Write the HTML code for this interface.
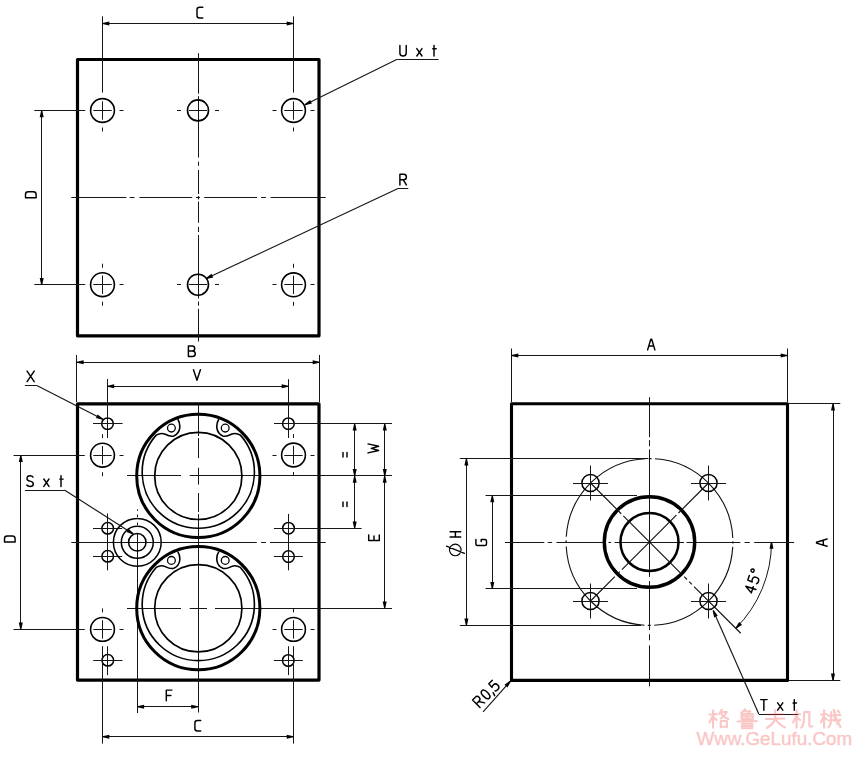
<!DOCTYPE html>
<html><head><meta charset="utf-8"><style>
html,body{margin:0;padding:0;background:#fff;overflow:hidden;}
svg{display:block;}
</style></head><body>
<svg width="864" height="757" viewBox="0 0 864 757">
<rect width="864" height="757" fill="#fff"/>
<rect x="77.5" y="59.5" width="241.50" height="276.30" fill="none" stroke="#000" stroke-width="3.2" stroke-linejoin="round"/>
<line x1="71.30" y1="197.50" x2="126.40" y2="197.50" stroke="#1a1515" stroke-width="1.0"/>
<line x1="129.70" y1="197.50" x2="134.50" y2="197.50" stroke="#1a1515" stroke-width="1.0"/>
<line x1="139.40" y1="197.50" x2="192.20" y2="197.50" stroke="#1a1515" stroke-width="1.0"/>
<line x1="196.00" y1="197.50" x2="200.00" y2="197.50" stroke="#1a1515" stroke-width="1.0"/>
<line x1="204.20" y1="197.50" x2="257.00" y2="197.50" stroke="#1a1515" stroke-width="1.0"/>
<line x1="261.10" y1="197.50" x2="265.90" y2="197.50" stroke="#1a1515" stroke-width="1.0"/>
<line x1="270.60" y1="197.50" x2="325.70" y2="197.50" stroke="#1a1515" stroke-width="1.0"/>
<line x1="198.50" y1="53.20" x2="198.50" y2="93.70" stroke="#1a1515" stroke-width="1.0"/>
<line x1="198.50" y1="96.20" x2="198.50" y2="157.60" stroke="#1a1515" stroke-width="1.0"/>
<line x1="198.50" y1="161.70" x2="198.50" y2="165.80" stroke="#1a1515" stroke-width="1.0"/>
<line x1="198.50" y1="169.90" x2="198.50" y2="194.00" stroke="#1a1515" stroke-width="1.0"/>
<line x1="198.50" y1="196.00" x2="198.50" y2="199.50" stroke="#1a1515" stroke-width="1.0"/>
<line x1="198.50" y1="201.50" x2="198.50" y2="222.80" stroke="#1a1515" stroke-width="1.0"/>
<line x1="198.50" y1="226.90" x2="198.50" y2="232.00" stroke="#1a1515" stroke-width="1.0"/>
<line x1="198.50" y1="235.00" x2="198.50" y2="298.50" stroke="#1a1515" stroke-width="1.0"/>
<line x1="198.50" y1="301.60" x2="198.50" y2="305.70" stroke="#1a1515" stroke-width="1.0"/>
<line x1="198.50" y1="308.80" x2="198.50" y2="341.50" stroke="#1a1515" stroke-width="1.0"/>
<circle cx="102.50" cy="110.50" r="11.90" fill="none" stroke="#000" stroke-width="1.6"/>
<line x1="93.30" y1="110.50" x2="111.70" y2="110.50" stroke="#1a1515" stroke-width="1.0"/>
<line x1="102.50" y1="101.30" x2="102.50" y2="119.70" stroke="#1a1515" stroke-width="1.0"/>
<line x1="119.50" y1="110.50" x2="123.50" y2="110.50" stroke="#1a1515" stroke-width="1.0"/>
<line x1="102.50" y1="127.50" x2="102.50" y2="131.50" stroke="#1a1515" stroke-width="1.0"/>
<circle cx="198.00" cy="110.40" r="10.50" fill="none" stroke="#000" stroke-width="1.6"/>
<line x1="188.80" y1="110.50" x2="207.20" y2="110.50" stroke="#1a1515" stroke-width="1.0"/>
<line x1="198.50" y1="101.20" x2="198.50" y2="119.60" stroke="#1a1515" stroke-width="1.0"/>
<line x1="177.00" y1="110.50" x2="181.00" y2="110.50" stroke="#1a1515" stroke-width="1.0"/>
<line x1="215.00" y1="110.50" x2="219.00" y2="110.50" stroke="#1a1515" stroke-width="1.0"/>
<circle cx="293.50" cy="110.50" r="11.90" fill="none" stroke="#000" stroke-width="1.6"/>
<line x1="284.30" y1="110.50" x2="302.70" y2="110.50" stroke="#1a1515" stroke-width="1.0"/>
<line x1="293.50" y1="101.30" x2="293.50" y2="119.70" stroke="#1a1515" stroke-width="1.0"/>
<line x1="272.50" y1="110.50" x2="276.50" y2="110.50" stroke="#1a1515" stroke-width="1.0"/>
<line x1="310.50" y1="110.50" x2="314.50" y2="110.50" stroke="#1a1515" stroke-width="1.0"/>
<line x1="293.50" y1="127.50" x2="293.50" y2="131.50" stroke="#1a1515" stroke-width="1.0"/>
<circle cx="102.50" cy="284.70" r="11.90" fill="none" stroke="#000" stroke-width="1.6"/>
<line x1="93.30" y1="284.50" x2="111.70" y2="284.50" stroke="#1a1515" stroke-width="1.0"/>
<line x1="102.50" y1="275.50" x2="102.50" y2="293.90" stroke="#1a1515" stroke-width="1.0"/>
<line x1="119.50" y1="284.50" x2="123.50" y2="284.50" stroke="#1a1515" stroke-width="1.0"/>
<line x1="102.50" y1="263.70" x2="102.50" y2="267.70" stroke="#1a1515" stroke-width="1.0"/>
<line x1="102.50" y1="301.70" x2="102.50" y2="305.70" stroke="#1a1515" stroke-width="1.0"/>
<circle cx="198.00" cy="284.70" r="10.50" fill="none" stroke="#000" stroke-width="1.6"/>
<line x1="188.80" y1="284.50" x2="207.20" y2="284.50" stroke="#1a1515" stroke-width="1.0"/>
<line x1="198.50" y1="275.50" x2="198.50" y2="293.90" stroke="#1a1515" stroke-width="1.0"/>
<line x1="177.00" y1="284.50" x2="181.00" y2="284.50" stroke="#1a1515" stroke-width="1.0"/>
<line x1="215.00" y1="284.50" x2="219.00" y2="284.50" stroke="#1a1515" stroke-width="1.0"/>
<circle cx="293.50" cy="284.80" r="11.90" fill="none" stroke="#000" stroke-width="1.6"/>
<line x1="284.30" y1="284.50" x2="302.70" y2="284.50" stroke="#1a1515" stroke-width="1.0"/>
<line x1="293.50" y1="275.60" x2="293.50" y2="294.00" stroke="#1a1515" stroke-width="1.0"/>
<line x1="272.50" y1="284.50" x2="276.50" y2="284.50" stroke="#1a1515" stroke-width="1.0"/>
<line x1="310.50" y1="284.50" x2="314.50" y2="284.50" stroke="#1a1515" stroke-width="1.0"/>
<line x1="293.50" y1="263.80" x2="293.50" y2="267.80" stroke="#1a1515" stroke-width="1.0"/>
<line x1="293.50" y1="301.80" x2="293.50" y2="305.80" stroke="#1a1515" stroke-width="1.0"/>
<line x1="102.50" y1="16.30" x2="102.50" y2="92.60" stroke="#1a1515" stroke-width="1.0"/>
<line x1="293.50" y1="16.30" x2="293.50" y2="92.60" stroke="#1a1515" stroke-width="1.0"/>
<line x1="102.50" y1="23.50" x2="293.50" y2="23.50" stroke="#1a1515" stroke-width="1.0"/>
<path d="M102.50,22.95 L102.50,24.05 L109.30,25.50 L109.30,21.50Z" fill="#000"/>
<path d="M293.50,24.05 L293.50,22.95 L286.70,21.50 L286.70,25.50Z" fill="#000"/>
<path transform="translate(197.00,17.90) rotate(0)" d="M5.8,-10.6 L2.5,-10.6 Q0,-10.6 0,-8.1 L0,-2.5 Q0,0 2.5,0 L5.8,0" fill="none" stroke="#000" stroke-width="1.45" stroke-linecap="round" stroke-linejoin="round"/>
<line x1="34.30" y1="110.50" x2="85.20" y2="110.50" stroke="#1a1515" stroke-width="1.0"/>
<line x1="34.30" y1="284.50" x2="85.20" y2="284.50" stroke="#1a1515" stroke-width="1.0"/>
<line x1="41.50" y1="110.50" x2="41.50" y2="284.70" stroke="#1a1515" stroke-width="1.0"/>
<path d="M42.25,110.50 L41.15,110.50 L39.70,117.30 L43.70,117.30Z" fill="#000"/>
<path d="M41.15,284.70 L42.25,284.70 L43.70,277.90 L39.70,277.90Z" fill="#000"/>
<path transform="translate(36.10,197.80) rotate(-90)" d="M0,0 L0,-10.6 L3.3,-10.6 Q6,-10.6 6,-7.9 L6,-2.7 Q6,0 3.3,0 Z" fill="none" stroke="#000" stroke-width="1.45" stroke-linecap="round" stroke-linejoin="round"/>
<line x1="304.90" y1="104.80" x2="397.20" y2="59.30" stroke="#1a1515" stroke-width="1.15"/>
<line x1="397.20" y1="59.50" x2="438.50" y2="59.50" stroke="#1a1515" stroke-width="1.0"/>
<path d="M304.66,104.31 L305.14,105.29 L311.88,103.59 L310.11,100.00Z" fill="#000"/>
<path transform="translate(399.90,56.00) rotate(0)" d="M0,-10.6 L0,-3 Q0,0 3.15,0 Q6.3,0 6.3,-3 L6.3,-10.6" fill="none" stroke="#000" stroke-width="1.45" stroke-linecap="round" stroke-linejoin="round"/>
<path transform="translate(416.80,56.00) rotate(0)" d="M0,-7.4 L5.2,0 M5.2,-7.4 L0,0" fill="none" stroke="#000" stroke-width="1.45" stroke-linecap="round" stroke-linejoin="round"/>
<path transform="translate(432.80,56.00) rotate(0)" d="M1.2,-10.6 L1.2,0 M0,-7.3 L3.4,-7.3" fill="none" stroke="#000" stroke-width="1.45" stroke-linecap="round" stroke-linejoin="round"/>
<line x1="206.20" y1="278.50" x2="398.00" y2="188.50" stroke="#1a1515" stroke-width="1.15"/>
<line x1="398.00" y1="188.50" x2="408.30" y2="188.50" stroke="#1a1515" stroke-width="1.0"/>
<path d="M205.97,278.00 L206.43,279.00 L213.21,277.42 L211.51,273.80Z" fill="#000"/>
<path transform="translate(399.90,184.90) rotate(0)" d="M0,0 L0,-10.6 L3.6,-10.6 Q6.5,-10.6 6.5,-7.9 Q6.5,-5.1 3.6,-5.1 L0,-5.1 M3.4,-5.1 L6.5,0" fill="none" stroke="#000" stroke-width="1.45" stroke-linecap="round" stroke-linejoin="round"/>
<rect x="77.5" y="403.9" width="241.50" height="276.20" fill="none" stroke="#000" stroke-width="3.2" stroke-linejoin="round"/>
<line x1="71.30" y1="542.50" x2="256.80" y2="542.50" stroke="#1a1515" stroke-width="1.0"/>
<line x1="261.10" y1="542.50" x2="265.90" y2="542.50" stroke="#1a1515" stroke-width="1.0"/>
<line x1="270.00" y1="542.50" x2="325.70" y2="542.50" stroke="#1a1515" stroke-width="1.0"/>
<line x1="198.50" y1="404.20" x2="198.50" y2="436.00" stroke="#1a1515" stroke-width="1.0"/>
<line x1="198.50" y1="438.00" x2="198.50" y2="458.10" stroke="#1a1515" stroke-width="1.0"/>
<line x1="198.50" y1="467.70" x2="198.50" y2="484.60" stroke="#1a1515" stroke-width="1.0"/>
<line x1="198.50" y1="493.00" x2="198.50" y2="512.00" stroke="#1a1515" stroke-width="1.0"/>
<line x1="198.50" y1="514.20" x2="198.50" y2="712.50" stroke="#1a1515" stroke-width="1.0"/>
<line x1="127.00" y1="475.50" x2="181.00" y2="475.50" stroke="#1a1515" stroke-width="1.0"/>
<line x1="189.70" y1="475.50" x2="392.00" y2="475.50" stroke="#1a1515" stroke-width="1.0"/>
<line x1="127.00" y1="608.50" x2="181.00" y2="608.50" stroke="#1a1515" stroke-width="1.0"/>
<line x1="189.70" y1="608.50" x2="207.00" y2="608.50" stroke="#1a1515" stroke-width="1.0"/>
<line x1="215.00" y1="608.50" x2="392.00" y2="608.50" stroke="#1a1515" stroke-width="1.0"/>
<line x1="137.50" y1="509.30" x2="137.50" y2="510.80" stroke="#1a1515" stroke-width="1.0"/>
<line x1="137.50" y1="514.60" x2="137.50" y2="517.00" stroke="#1a1515" stroke-width="1.0"/>
<line x1="137.50" y1="522.50" x2="137.50" y2="525.00" stroke="#1a1515" stroke-width="1.0"/>
<line x1="137.50" y1="533.50" x2="137.50" y2="713.00" stroke="#1a1515" stroke-width="1.0"/>
<circle cx="198.30" cy="475.90" r="61.60" fill="none" stroke="#000" stroke-width="3.0"/>
<circle cx="198.30" cy="475.90" r="43.60" fill="none" stroke="#000" stroke-width="1.7"/>
<path d="M177.80,419.30 C180.70,423.90 181.30,432.90 173.80,435.90 C170.30,437.10 167.30,435.30 165.30,434.30 C162.30,432.90 158.80,433.60 156.20,435.12 A56.1,56.1 0 1 0 240.40,435.12 C237.80,433.60 234.30,432.90 231.30,434.30 C229.30,435.30 226.30,437.10 222.80,435.90 C215.30,432.90 215.90,423.90 218.80,419.30" fill="none" stroke="#000" stroke-width="1.6"/>
<circle cx="171.40" cy="428.10" r="3.90" fill="none" stroke="#000" stroke-width="1.3"/>
<circle cx="225.20" cy="428.10" r="3.90" fill="none" stroke="#000" stroke-width="1.3"/>
<circle cx="198.30" cy="608.20" r="61.60" fill="none" stroke="#000" stroke-width="3.0"/>
<circle cx="198.30" cy="608.20" r="43.60" fill="none" stroke="#000" stroke-width="1.7"/>
<path d="M177.80,551.60 C180.70,556.20 181.30,565.20 173.80,568.20 C170.30,569.40 167.30,567.60 165.30,566.60 C162.30,565.20 158.80,565.90 156.20,567.42 A56.1,56.1 0 1 0 240.40,567.42 C237.80,565.90 234.30,565.20 231.30,566.60 C229.30,567.60 226.30,569.40 222.80,568.20 C215.30,565.20 215.90,556.20 218.80,551.60" fill="none" stroke="#000" stroke-width="1.6"/>
<circle cx="171.40" cy="560.40" r="3.90" fill="none" stroke="#000" stroke-width="1.3"/>
<circle cx="225.20" cy="560.40" r="3.90" fill="none" stroke="#000" stroke-width="1.3"/>
<circle cx="107.50" cy="423.70" r="5.80" fill="none" stroke="#000" stroke-width="1.5"/>
<circle cx="288.40" cy="423.70" r="5.80" fill="none" stroke="#000" stroke-width="1.5"/>
<circle cx="107.70" cy="528.30" r="5.80" fill="none" stroke="#000" stroke-width="1.5"/>
<circle cx="288.50" cy="528.20" r="5.80" fill="none" stroke="#000" stroke-width="1.5"/>
<circle cx="107.70" cy="556.30" r="5.80" fill="none" stroke="#000" stroke-width="1.5"/>
<circle cx="288.50" cy="556.60" r="5.80" fill="none" stroke="#000" stroke-width="1.5"/>
<circle cx="107.80" cy="660.30" r="5.80" fill="none" stroke="#000" stroke-width="1.5"/>
<circle cx="288.30" cy="660.50" r="5.80" fill="none" stroke="#000" stroke-width="1.5"/>
<line x1="93.00" y1="423.50" x2="122.60" y2="423.50" stroke="#1a1515" stroke-width="1.0"/>
<line x1="107.50" y1="379.00" x2="107.50" y2="438.00" stroke="#1a1515" stroke-width="1.0"/>
<line x1="274.00" y1="423.50" x2="392.00" y2="423.50" stroke="#1a1515" stroke-width="1.0"/>
<line x1="288.50" y1="379.20" x2="288.50" y2="438.00" stroke="#1a1515" stroke-width="1.0"/>
<line x1="93.00" y1="528.50" x2="122.20" y2="528.50" stroke="#1a1515" stroke-width="1.0"/>
<line x1="93.00" y1="556.50" x2="122.20" y2="556.50" stroke="#1a1515" stroke-width="1.0"/>
<line x1="107.50" y1="513.50" x2="107.50" y2="570.30" stroke="#1a1515" stroke-width="1.0"/>
<line x1="273.90" y1="528.50" x2="361.60" y2="528.50" stroke="#1a1515" stroke-width="1.0"/>
<line x1="273.90" y1="556.50" x2="302.80" y2="556.50" stroke="#1a1515" stroke-width="1.0"/>
<line x1="288.50" y1="513.90" x2="288.50" y2="570.30" stroke="#1a1515" stroke-width="1.0"/>
<line x1="93.20" y1="660.50" x2="122.50" y2="660.50" stroke="#1a1515" stroke-width="1.0"/>
<line x1="107.50" y1="646.20" x2="107.50" y2="675.10" stroke="#1a1515" stroke-width="1.0"/>
<line x1="273.90" y1="660.50" x2="302.80" y2="660.50" stroke="#1a1515" stroke-width="1.0"/>
<line x1="288.50" y1="646.20" x2="288.50" y2="675.10" stroke="#1a1515" stroke-width="1.0"/>
<circle cx="102.50" cy="455.20" r="11.90" fill="none" stroke="#000" stroke-width="1.6"/>
<line x1="93.30" y1="455.50" x2="111.70" y2="455.50" stroke="#1a1515" stroke-width="1.0"/>
<line x1="102.50" y1="446.00" x2="102.50" y2="464.40" stroke="#1a1515" stroke-width="1.0"/>
<line x1="119.50" y1="455.50" x2="123.50" y2="455.50" stroke="#1a1515" stroke-width="1.0"/>
<line x1="102.50" y1="434.20" x2="102.50" y2="438.20" stroke="#1a1515" stroke-width="1.0"/>
<line x1="102.50" y1="472.20" x2="102.50" y2="476.20" stroke="#1a1515" stroke-width="1.0"/>
<circle cx="293.50" cy="455.00" r="11.90" fill="none" stroke="#000" stroke-width="1.6"/>
<line x1="284.30" y1="455.50" x2="302.70" y2="455.50" stroke="#1a1515" stroke-width="1.0"/>
<line x1="293.50" y1="445.80" x2="293.50" y2="464.20" stroke="#1a1515" stroke-width="1.0"/>
<line x1="272.50" y1="455.50" x2="276.50" y2="455.50" stroke="#1a1515" stroke-width="1.0"/>
<line x1="310.50" y1="455.50" x2="314.50" y2="455.50" stroke="#1a1515" stroke-width="1.0"/>
<line x1="293.50" y1="434.00" x2="293.50" y2="438.00" stroke="#1a1515" stroke-width="1.0"/>
<line x1="293.50" y1="472.00" x2="293.50" y2="476.00" stroke="#1a1515" stroke-width="1.0"/>
<circle cx="102.50" cy="629.40" r="11.90" fill="none" stroke="#000" stroke-width="1.6"/>
<line x1="93.30" y1="629.50" x2="111.70" y2="629.50" stroke="#1a1515" stroke-width="1.0"/>
<line x1="102.50" y1="620.20" x2="102.50" y2="638.60" stroke="#1a1515" stroke-width="1.0"/>
<line x1="119.50" y1="629.50" x2="123.50" y2="629.50" stroke="#1a1515" stroke-width="1.0"/>
<line x1="102.50" y1="608.40" x2="102.50" y2="612.40" stroke="#1a1515" stroke-width="1.0"/>
<circle cx="293.50" cy="629.40" r="11.90" fill="none" stroke="#000" stroke-width="1.6"/>
<line x1="284.30" y1="629.50" x2="302.70" y2="629.50" stroke="#1a1515" stroke-width="1.0"/>
<line x1="293.50" y1="620.20" x2="293.50" y2="638.60" stroke="#1a1515" stroke-width="1.0"/>
<line x1="272.50" y1="629.50" x2="276.50" y2="629.50" stroke="#1a1515" stroke-width="1.0"/>
<line x1="310.50" y1="629.50" x2="314.50" y2="629.50" stroke="#1a1515" stroke-width="1.0"/>
<line x1="293.50" y1="608.40" x2="293.50" y2="612.40" stroke="#1a1515" stroke-width="1.0"/>
<line x1="102.50" y1="646.20" x2="102.50" y2="743.60" stroke="#1a1515" stroke-width="1.0"/>
<line x1="293.50" y1="646.20" x2="293.50" y2="743.60" stroke="#1a1515" stroke-width="1.0"/>
<circle cx="137.30" cy="542.30" r="23.90" fill="none" stroke="#000" stroke-width="1.5"/>
<circle cx="137.30" cy="542.30" r="16.00" fill="none" stroke="#000" stroke-width="1.5"/>
<circle cx="137.30" cy="542.30" r="8.75" fill="none" stroke="#000" stroke-width="1.5"/>
<line x1="76.50" y1="355.00" x2="76.50" y2="402.00" stroke="#1a1515" stroke-width="1.0"/>
<line x1="319.50" y1="355.00" x2="319.50" y2="402.00" stroke="#1a1515" stroke-width="1.0"/>
<line x1="76.80" y1="362.50" x2="319.50" y2="362.50" stroke="#1a1515" stroke-width="1.0"/>
<path d="M76.80,361.65 L76.80,362.75 L83.60,364.20 L83.60,360.20Z" fill="#000"/>
<path d="M319.50,362.75 L319.50,361.65 L312.70,360.20 L312.70,364.20Z" fill="#000"/>
<path transform="translate(188.40,356.50) rotate(0)" d="M0,0 L0,-10.6 L3.9,-10.6 Q6.3,-10.6 6.3,-8.1 Q6.3,-5.6 3.9,-5.6 L0,-5.6 M3.9,-5.6 Q6.9,-5.6 6.9,-2.8 Q6.9,0 3.9,0 L0,0" fill="none" stroke="#000" stroke-width="1.45" stroke-linecap="round" stroke-linejoin="round"/>
<line x1="107.40" y1="386.50" x2="288.40" y2="386.50" stroke="#1a1515" stroke-width="1.0"/>
<path d="M107.40,385.75 L107.40,386.85 L114.20,388.30 L114.20,384.30Z" fill="#000"/>
<path d="M288.40,386.85 L288.40,385.75 L281.60,384.30 L281.60,388.30Z" fill="#000"/>
<path transform="translate(193.50,380.30) rotate(0)" d="M0,-10.6 L3.45,0 L6.9,-10.6" fill="none" stroke="#000" stroke-width="1.45" stroke-linecap="round" stroke-linejoin="round"/>
<line x1="354.50" y1="423.70" x2="354.50" y2="475.90" stroke="#1a1515" stroke-width="1.0"/>
<path d="M355.25,423.70 L354.15,423.70 L352.70,430.50 L356.70,430.50Z" fill="#000"/>
<path d="M354.15,475.90 L355.25,475.90 L356.70,469.10 L352.70,469.10Z" fill="#000"/>
<line x1="354.50" y1="475.90" x2="354.50" y2="528.20" stroke="#1a1515" stroke-width="1.0"/>
<path d="M355.25,475.90 L354.15,475.90 L352.70,482.70 L356.70,482.70Z" fill="#000"/>
<path d="M354.15,528.20 L355.25,528.20 L356.70,521.40 L352.70,521.40Z" fill="#000"/>
<line x1="384.50" y1="423.70" x2="384.50" y2="475.90" stroke="#1a1515" stroke-width="1.0"/>
<path d="M385.35,423.70 L384.25,423.70 L382.80,430.50 L386.80,430.50Z" fill="#000"/>
<path d="M384.25,475.90 L385.35,475.90 L386.80,469.10 L382.80,469.10Z" fill="#000"/>
<line x1="384.50" y1="475.90" x2="384.50" y2="608.30" stroke="#1a1515" stroke-width="1.0"/>
<path d="M385.25,475.90 L384.15,475.90 L382.70,482.70 L386.70,482.70Z" fill="#000"/>
<path d="M384.15,608.30 L385.25,608.30 L386.70,601.50 L382.70,601.50Z" fill="#000"/>
<path transform="translate(350.30,457.00) rotate(-90)" d="M0,-3.3 L4.6,-3.3 M0,-7.3 L4.6,-7.3" fill="none" stroke="#000" stroke-width="1.45" stroke-linecap="round" stroke-linejoin="round"/>
<path transform="translate(350.30,506.50) rotate(-90)" d="M0,-3.3 L4.6,-3.3 M0,-7.3 L4.6,-7.3" fill="none" stroke="#000" stroke-width="1.45" stroke-linecap="round" stroke-linejoin="round"/>
<path transform="translate(378.60,452.90) rotate(-90)" d="M0,-10.6 L2.4,0 L4.5,-7.3 L6.6,0 L9,-10.6" fill="none" stroke="#000" stroke-width="1.45" stroke-linecap="round" stroke-linejoin="round"/>
<path transform="translate(379.30,540.60) rotate(-90)" d="M5.6,-10.6 L0,-10.6 L0,0 L5.6,0 M0,-5.3 L4.6,-5.3" fill="none" stroke="#000" stroke-width="1.45" stroke-linecap="round" stroke-linejoin="round"/>
<line x1="13.50" y1="455.50" x2="84.80" y2="455.50" stroke="#1a1515" stroke-width="1.0"/>
<line x1="13.50" y1="629.50" x2="84.80" y2="629.50" stroke="#1a1515" stroke-width="1.0"/>
<line x1="20.50" y1="455.30" x2="20.50" y2="629.40" stroke="#1a1515" stroke-width="1.0"/>
<path d="M21.35,455.30 L20.25,455.30 L18.80,462.10 L22.80,462.10Z" fill="#000"/>
<path d="M20.25,629.40 L21.35,629.40 L22.80,622.60 L18.80,622.60Z" fill="#000"/>
<path transform="translate(15.10,542.00) rotate(-90)" d="M0,0 L0,-10.6 L3.3,-10.6 Q6,-10.6 6,-7.9 L6,-2.7 Q6,0 3.3,0 Z" fill="none" stroke="#000" stroke-width="1.45" stroke-linecap="round" stroke-linejoin="round"/>
<line x1="137.30" y1="706.50" x2="198.00" y2="706.50" stroke="#1a1515" stroke-width="1.0"/>
<path d="M137.30,706.15 L137.30,707.25 L144.10,708.70 L144.10,704.70Z" fill="#000"/>
<path d="M198.00,707.25 L198.00,706.15 L191.20,704.70 L191.20,708.70Z" fill="#000"/>
<path transform="translate(166.30,700.70) rotate(0)" d="M5.6,-10.6 L0,-10.6 L0,0 M0,-5.3 L4.6,-5.3" fill="none" stroke="#000" stroke-width="1.45" stroke-linecap="round" stroke-linejoin="round"/>
<line x1="102.50" y1="736.50" x2="293.50" y2="736.50" stroke="#1a1515" stroke-width="1.0"/>
<path d="M102.50,736.15 L102.50,737.25 L109.30,738.70 L109.30,734.70Z" fill="#000"/>
<path d="M293.50,737.25 L293.50,736.15 L286.70,734.70 L286.70,738.70Z" fill="#000"/>
<path transform="translate(194.90,731.00) rotate(0)" d="M5.8,-10.6 L2.5,-10.6 Q0,-10.6 0,-8.1 L0,-2.5 Q0,0 2.5,0 L5.8,0" fill="none" stroke="#000" stroke-width="1.45" stroke-linecap="round" stroke-linejoin="round"/>
<line x1="24.90" y1="385.50" x2="36.80" y2="385.50" stroke="#1a1515" stroke-width="1.0"/>
<line x1="36.80" y1="385.40" x2="102.80" y2="419.30" stroke="#1a1515" stroke-width="1.15"/>
<path d="M102.55,419.79 L103.05,418.81 L97.67,414.41 L95.84,417.97Z" fill="#000"/>
<path transform="translate(27.10,381.70) rotate(0)" d="M0,-10.6 L7.1,0 M7.1,-10.6 L0,0" fill="none" stroke="#000" stroke-width="1.45" stroke-linecap="round" stroke-linejoin="round"/>
<line x1="24.90" y1="490.50" x2="64.40" y2="490.50" stroke="#1a1515" stroke-width="1.0"/>
<line x1="64.40" y1="490.00" x2="133.30" y2="534.00" stroke="#1a1515" stroke-width="1.15"/>
<path d="M133.00,534.46 L133.60,533.54 L128.65,528.65 L126.49,532.03Z" fill="#000"/>
<path transform="translate(26.80,486.40) rotate(0)" d="M6.2,-9.3 Q5.5,-10.6 3.3,-10.6 Q0.2,-10.6 0.2,-7.9 Q0.2,-5.8 3.2,-5.3 Q6.5,-4.8 6.5,-2.5 Q6.5,0 3.3,0 Q0.9,0 0,-1.4" fill="none" stroke="#000" stroke-width="1.45" stroke-linecap="round" stroke-linejoin="round"/>
<path transform="translate(43.80,486.40) rotate(0)" d="M0,-7.4 L5.2,0 M5.2,-7.4 L0,0" fill="none" stroke="#000" stroke-width="1.45" stroke-linecap="round" stroke-linejoin="round"/>
<path transform="translate(59.80,486.40) rotate(0)" d="M1.2,-10.6 L1.2,0 M0,-7.3 L3.4,-7.3" fill="none" stroke="#000" stroke-width="1.45" stroke-linecap="round" stroke-linejoin="round"/>
<rect x="511.5" y="403.7" width="276.00" height="276.70" fill="none" stroke="#000" stroke-width="3.1" stroke-linejoin="round"/>
<line x1="504.90" y1="542.50" x2="544.30" y2="542.50" stroke="#1a1515" stroke-width="1.0"/>
<line x1="547.70" y1="542.50" x2="552.10" y2="542.50" stroke="#1a1515" stroke-width="1.0"/>
<line x1="556.40" y1="542.50" x2="605.90" y2="542.50" stroke="#1a1515" stroke-width="1.0"/>
<line x1="608.50" y1="542.50" x2="611.10" y2="542.50" stroke="#1a1515" stroke-width="1.0"/>
<line x1="614.60" y1="542.50" x2="684.00" y2="542.50" stroke="#1a1515" stroke-width="1.0"/>
<line x1="686.50" y1="542.50" x2="740.30" y2="542.50" stroke="#1a1515" stroke-width="1.0"/>
<line x1="744.60" y1="542.50" x2="749.80" y2="542.50" stroke="#1a1515" stroke-width="1.0"/>
<line x1="754.20" y1="542.50" x2="794.10" y2="542.50" stroke="#1a1515" stroke-width="1.0"/>
<line x1="649.50" y1="397.20" x2="649.50" y2="437.10" stroke="#1a1515" stroke-width="1.0"/>
<line x1="649.50" y1="440.20" x2="649.50" y2="446.30" stroke="#1a1515" stroke-width="1.0"/>
<line x1="649.50" y1="449.40" x2="649.50" y2="576.90" stroke="#1a1515" stroke-width="1.0"/>
<line x1="649.50" y1="581.00" x2="649.50" y2="630.10" stroke="#1a1515" stroke-width="1.0"/>
<line x1="649.50" y1="634.20" x2="649.50" y2="640.30" stroke="#1a1515" stroke-width="1.0"/>
<line x1="649.50" y1="645.40" x2="649.50" y2="686.40" stroke="#1a1515" stroke-width="1.0"/>
<circle cx="649.50" cy="542.00" r="83.40" fill="none" stroke="#111" stroke-width="1.1" stroke-dasharray="121 3.5 3 3.5" stroke-dashoffset="126"/>
<circle cx="649.50" cy="542.00" r="45.20" fill="none" stroke="#000" stroke-width="3.4"/>
<circle cx="649.50" cy="542.00" r="29.00" fill="none" stroke="#000" stroke-width="2.5"/>
<circle cx="590.50" cy="483.00" r="8.60" fill="none" stroke="#000" stroke-width="1.5"/>
<line x1="573.00" y1="483.50" x2="608.00" y2="483.50" stroke="#1a1515" stroke-width="1.0"/>
<line x1="590.50" y1="465.50" x2="590.50" y2="500.50" stroke="#1a1515" stroke-width="1.0"/>
<circle cx="708.50" cy="483.00" r="8.60" fill="none" stroke="#000" stroke-width="1.5"/>
<line x1="691.00" y1="483.50" x2="726.00" y2="483.50" stroke="#1a1515" stroke-width="1.0"/>
<line x1="708.50" y1="465.50" x2="708.50" y2="500.50" stroke="#1a1515" stroke-width="1.0"/>
<circle cx="590.50" cy="601.00" r="8.60" fill="none" stroke="#000" stroke-width="1.5"/>
<line x1="573.00" y1="601.50" x2="608.00" y2="601.50" stroke="#1a1515" stroke-width="1.0"/>
<line x1="590.50" y1="583.50" x2="590.50" y2="618.50" stroke="#1a1515" stroke-width="1.0"/>
<circle cx="708.50" cy="601.00" r="8.60" fill="none" stroke="#000" stroke-width="1.5"/>
<line x1="691.00" y1="601.50" x2="726.00" y2="601.50" stroke="#1a1515" stroke-width="1.0"/>
<line x1="708.50" y1="583.50" x2="708.50" y2="618.50" stroke="#1a1515" stroke-width="1.0"/>
<line x1="590.53" y1="483.03" x2="621.22" y2="513.72" stroke="#111" stroke-width="1.15"/>
<line x1="623.34" y1="515.84" x2="682.38" y2="574.88" stroke="#111" stroke-width="1.15"/>
<line x1="684.15" y1="576.65" x2="686.98" y2="579.48" stroke="#111" stroke-width="1.15"/>
<line x1="689.10" y1="581.60" x2="691.93" y2="584.43" stroke="#111" stroke-width="1.15"/>
<line x1="694.05" y1="586.55" x2="740.72" y2="633.22" stroke="#111" stroke-width="1.15"/>
<line x1="590.53" y1="600.97" x2="614.85" y2="576.65" stroke="#111" stroke-width="1.15"/>
<line x1="616.97" y1="574.53" x2="619.80" y2="571.70" stroke="#111" stroke-width="1.15"/>
<line x1="621.92" y1="569.58" x2="676.37" y2="515.13" stroke="#111" stroke-width="1.15"/>
<line x1="678.49" y1="513.01" x2="708.47" y2="483.03" stroke="#111" stroke-width="1.15"/>
<line x1="511.50" y1="348.50" x2="511.50" y2="402.00" stroke="#1a1515" stroke-width="1.0"/>
<line x1="787.50" y1="348.50" x2="787.50" y2="402.00" stroke="#1a1515" stroke-width="1.0"/>
<line x1="511.50" y1="355.50" x2="787.50" y2="355.50" stroke="#1a1515" stroke-width="1.0"/>
<path d="M511.50,354.95 L511.50,356.05 L518.30,357.50 L518.30,353.50Z" fill="#000"/>
<path d="M787.50,356.05 L787.50,354.95 L780.70,353.50 L780.70,357.50Z" fill="#000"/>
<path transform="translate(647.60,349.90) rotate(0)" d="M0,0 L3.2,-10.6 L4.1,-10.6 L7.3,0 M1.2,-3.8 L6.1,-3.8" fill="none" stroke="#000" stroke-width="1.45" stroke-linecap="round" stroke-linejoin="round"/>
<line x1="789.00" y1="403.50" x2="840.30" y2="403.50" stroke="#1a1515" stroke-width="1.0"/>
<line x1="789.00" y1="680.50" x2="840.30" y2="680.50" stroke="#1a1515" stroke-width="1.0"/>
<line x1="833.50" y1="403.70" x2="833.50" y2="680.40" stroke="#1a1515" stroke-width="1.0"/>
<path d="M833.55,403.70 L832.45,403.70 L831.00,410.50 L835.00,410.50Z" fill="#000"/>
<path d="M832.45,680.40 L833.55,680.40 L835.00,673.60 L831.00,673.60Z" fill="#000"/>
<path transform="translate(827.10,546.30) rotate(-90)" d="M0,0 L3.2,-10.6 L4.1,-10.6 L7.3,0 M1.2,-3.8 L6.1,-3.8" fill="none" stroke="#000" stroke-width="1.45" stroke-linecap="round" stroke-linejoin="round"/>
<line x1="459.80" y1="458.50" x2="648.00" y2="458.50" stroke="#1a1515" stroke-width="1.0"/>
<line x1="459.80" y1="625.50" x2="641.00" y2="625.50" stroke="#1a1515" stroke-width="1.0"/>
<line x1="466.50" y1="458.60" x2="466.50" y2="625.40" stroke="#1a1515" stroke-width="1.0"/>
<path d="M466.95,458.60 L465.85,458.60 L464.40,465.40 L468.40,465.40Z" fill="#000"/>
<path d="M465.85,625.40 L466.95,625.40 L468.40,618.60 L464.40,618.60Z" fill="#000"/>
<path transform="translate(460.70,556.20) rotate(-90)" d="M12.1,-5.4 A5.8,5.8 0 1 1 0.5,-5.4 A5.8,5.8 0 1 1 12.1,-5.4 M2.8,3.8 L10.1,-14.3" fill="none" stroke="#000" stroke-width="1.15" stroke-linecap="round" stroke-linejoin="round"/>
<path transform="translate(460.70,536.90) rotate(-90)" d="M0,0 L0,-10.6 M5.2,0 L5.2,-10.6 M0,-5.3 L5.2,-5.3" fill="none" stroke="#000" stroke-width="1.45" stroke-linecap="round" stroke-linejoin="round"/>
<line x1="485.50" y1="495.50" x2="637.00" y2="495.50" stroke="#1a1515" stroke-width="1.0"/>
<line x1="485.50" y1="588.50" x2="637.00" y2="588.50" stroke="#1a1515" stroke-width="1.0"/>
<line x1="492.50" y1="495.40" x2="492.50" y2="588.80" stroke="#1a1515" stroke-width="1.0"/>
<path d="M492.85,495.40 L491.75,495.40 L490.30,502.20 L494.30,502.20Z" fill="#000"/>
<path d="M491.75,588.80 L492.85,588.80 L494.30,582.00 L490.30,582.00Z" fill="#000"/>
<path transform="translate(486.50,545.40) rotate(-90)" d="M6,-10.6 L1.5,-10.6 Q0,-10.6 0,-9.1 L0,-1.5 Q0,0 1.5,0 L4.5,0 Q6,0 6,-1.5 L6,-5.3 L3.8,-5.3" fill="none" stroke="#000" stroke-width="1.45" stroke-linecap="round" stroke-linejoin="round"/>
<path d="M771.50,542.00 A122,122 0 0 1 735.77,628.27" fill="none" stroke="#1a1515" stroke-width="1.0"/>
<path d="M772.05,542.00 L770.95,542.00 L769.50,548.80 L773.50,548.80Z" fill="#000"/>
<path d="M735.38,627.88 L736.16,628.66 L741.99,624.87 L739.16,622.04Z" fill="#000"/>
<path transform="translate(754.45,593.90) rotate(-72)" d="M4.6,0 L4.6,-10.6 L0,-3.3 L6.4,-3.3" fill="none" stroke="#000" stroke-width="1.45" stroke-linecap="round" stroke-linejoin="round"/>
<path transform="translate(757.60,584.20) rotate(-72)" d="M5.8,-10.6 L0.8,-10.6 L0.4,-5.8 Q1.6,-6.6 3.1,-6.6 Q6.1,-6.6 6.1,-3.3 Q6.1,0 3.1,0 Q1,0 0,-1.2" fill="none" stroke="#000" stroke-width="1.45" stroke-linecap="round" stroke-linejoin="round"/>
<path transform="translate(760.57,575.07) rotate(-72)" d="M3.4,-9 A1.6,1.6 0 1 1 0.2,-9 A1.6,1.6 0 1 1 3.4,-9" fill="none" stroke="#000" stroke-width="1.45" stroke-linecap="round" stroke-linejoin="round"/>
<line x1="713.20" y1="610.40" x2="758.80" y2="714.10" stroke="#1a1515" stroke-width="1.15"/>
<line x1="758.80" y1="714.50" x2="798.20" y2="714.50" stroke="#1a1515" stroke-width="1.0"/>
<path d="M713.70,610.18 L712.70,610.62 L714.11,617.43 L717.77,615.82Z" fill="#000"/>
<path transform="translate(760.60,710.20) rotate(0)" d="M0,-10.6 L6.5,-10.6 M3.25,-10.6 L3.25,0" fill="none" stroke="#000" stroke-width="1.45" stroke-linecap="round" stroke-linejoin="round"/>
<path transform="translate(777.60,710.20) rotate(0)" d="M0,-7.4 L5.2,0 M5.2,-7.4 L0,0" fill="none" stroke="#000" stroke-width="1.45" stroke-linecap="round" stroke-linejoin="round"/>
<path transform="translate(793.10,710.20) rotate(0)" d="M1.2,-10.6 L1.2,0 M0,-7.3 L3.4,-7.3" fill="none" stroke="#000" stroke-width="1.45" stroke-linecap="round" stroke-linejoin="round"/>
<line x1="483.10" y1="711.90" x2="510.50" y2="681.00" stroke="#1a1515" stroke-width="1.15"/>
<path d="M510.91,681.36 L510.09,680.64 L504.49,684.76 L507.48,687.41Z" fill="#000"/>
<path transform="translate(480.05,707.45) rotate(-45)" d="M0,0 L0,-10.6 L3.6,-10.6 Q6.5,-10.6 6.5,-7.9 Q6.5,-5.1 3.6,-5.1 L0,-5.1 M3.4,-5.1 L6.5,0" fill="none" stroke="#000" stroke-width="1.45" stroke-linecap="round" stroke-linejoin="round"/>
<path transform="translate(487.37,700.13) rotate(-45)" d="M5.6,-5.3 A2.8,5.3 0 1 1 0,-5.3 A2.8,5.3 0 1 1 5.6,-5.3" fill="none" stroke="#000" stroke-width="1.45" stroke-linecap="round" stroke-linejoin="round"/>
<path transform="translate(493.13,694.37) rotate(-45)" d="M1.2,-1.2 L0.2,2" fill="none" stroke="#000" stroke-width="1.45" stroke-linecap="round" stroke-linejoin="round"/>
<path transform="translate(495.75,691.75) rotate(-45)" d="M5.8,-10.6 L0.8,-10.6 L0.4,-5.8 Q1.6,-6.6 3.1,-6.6 Q6.1,-6.6 6.1,-3.3 Q6.1,0 3.1,0 Q1,0 0,-1.2" fill="none" stroke="#000" stroke-width="1.45" stroke-linecap="round" stroke-linejoin="round"/>
<path transform="translate(708.5,709.2) scale(1.02,0.98)" d="M1,5.5 L8,5 M4.5,1 L4.5,19 M4.5,6.5 L1,13.5 M5,8.5 L8,11 M13,0.5 L10.5,5 M11.5,3 L18,3 Q16,7 12,9.5 M12.5,5 Q15,8 19.5,10 M12,12 L12,18.5 M12,12 L18,12 L18,18.5 M12,18 L18,18" fill="none" stroke="#ee4444" stroke-width="2.1" stroke-linecap="round" stroke-linejoin="round" opacity="0.3"/>
<path transform="translate(737,709.2) scale(1.02,0.98)" d="M8,0 L4,4 M7,2 L13,2 L11,4.5 M4.5,5 L15.5,5 L15.5,10 L4.5,10 Z M10,5 L10,10 M4.5,7.5 L15.5,7.5 M0.5,12.5 Q10,11.5 19.5,12.2 M5,14.5 L15,14.5 L15,19.5 L5,19.5 Z M5,17 L15,17" fill="none" stroke="#ee4444" stroke-width="2.1" stroke-linecap="round" stroke-linejoin="round" opacity="0.3"/>
<path transform="translate(765,709.2) scale(1.02,0.98)" d="M3,5.5 L17,5 M1,10 L19,9.5 M10,1 L10,10 Q8,15 2,19 M10.5,10.5 Q14,16 19.5,18.5" fill="none" stroke="#ee4444" stroke-width="2.1" stroke-linecap="round" stroke-linejoin="round" opacity="0.3"/>
<path transform="translate(792,709.2) scale(1.02,0.98)" d="M1,5.5 L8,5 M4.5,1 L4.5,19 M4.5,6.5 L1,13.5 M5,8.5 L8,11 M12,3 L11.5,13 Q11,17 9,19 M12,3 L17,3 L17,16 Q17,18.5 20,17.5" fill="none" stroke="#ee4444" stroke-width="2.1" stroke-linecap="round" stroke-linejoin="round" opacity="0.3"/>
<path transform="translate(820.5,709.2) scale(1.02,0.98)" d="M0.5,5.5 L6,5 M3.5,1 L3.5,19 M3.5,6.5 L0.5,13.5 M4,8.5 L6,10.5 M7.5,6.5 L19.5,6 M10.5,3 L10.5,12 Q10,16 8,18.5 M14,3 L14,12 M8,11.5 L17,11 M13,0.5 Q14.5,10 19.5,18 M17,1.5 L18.5,3.5 M16,15 L19.5,10.5" fill="none" stroke="#ee4444" stroke-width="2.1" stroke-linecap="round" stroke-linejoin="round" opacity="0.3"/>
<text x="696.4" y="744.7" font-size="18.2" textLength="155.7" lengthAdjust="spacingAndGlyphs" fill="#ee4444" stroke="#ee4444" stroke-width="0.4" opacity="0.3" style="font-family:'Liberation Sans',sans-serif">Www.GeLufu.Com</text>
</svg></body></html>
